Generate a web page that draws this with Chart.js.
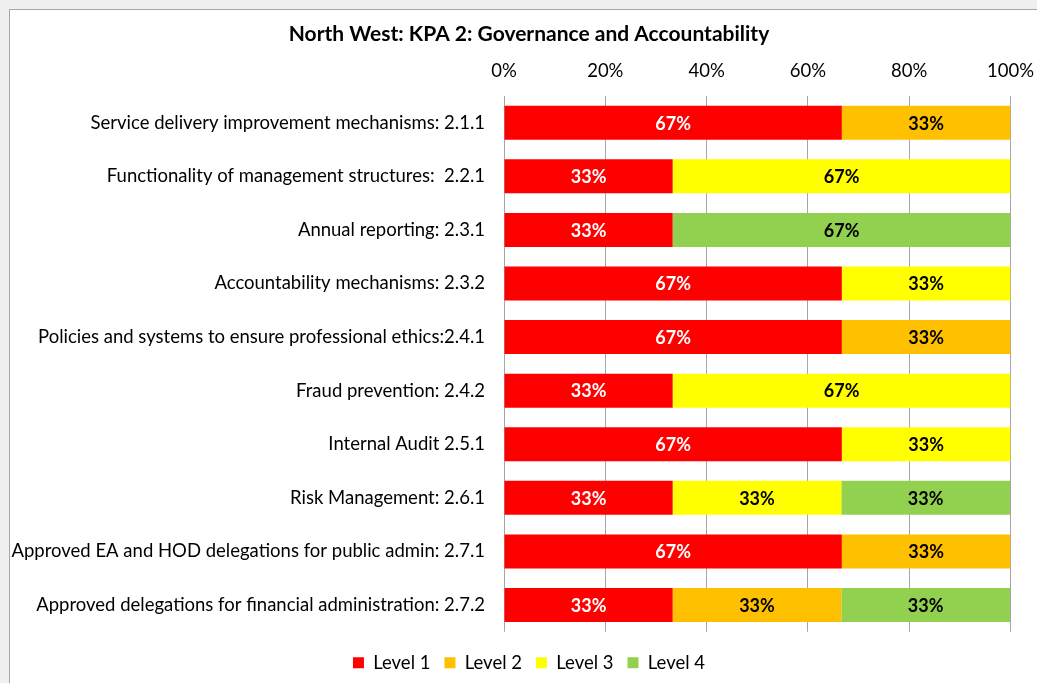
<!DOCTYPE html>
<html>
<head>
<meta charset="utf-8">
<title>North West: KPA 2</title>
<script src="https://cdn.jsdelivr.net/npm/chart.js@4.4.0/dist/chart.umd.min.js"></script>
<style>
    html, body { margin: 0; padding: 0; background: #f0f0f0; overflow: hidden; }
    #frame {
        position: absolute; left: 9px; top: 9px;
        width: 1050px; height: 690px;
        background: #fff; border: 1px solid #a6a6a6;
    }
    #wrap { position: absolute; left: 0; top: 0; width: 1038px; height: 673px; }
</style>
</head>
<body>
<div id="frame">
    <div id="wrap"><canvas id="kpaChart"></canvas></div>
</div>
<script>
// --- Data ---
const categories = [
    'Service delivery improvement mechanisms: 2.1.1',
    'Functionality of management structures:  2.2.1',
    'Annual reporting: 2.3.1',
    'Accountability mechanisms: 2.3.2',
    'Policies and systems to ensure professional ethics:2.4.1',
    'Fraud prevention: 2.4.2',
    'Internal Audit 2.5.1',
    'Risk Management: 2.6.1',
    'Approved EA and HOD delegations for public admin: 2.7.1',
    'Approved delegations for financial administration: 2.7.2'
];
const level1 = [66.7, 33.3, 33.3, 66.7, 66.7, 33.3, 66.7, 33.3, 66.7, 33.3];
const level2 = [33.3, 0, 0, 0, 33.3, 0, 0, 0, 33.3, 33.3];
const level3 = [0, 66.7, 0, 33.3, 0, 66.7, 33.3, 33.3, 0, 0];
const level4 = [0, 0, 66.7, 0, 0, 0, 0, 33.3, 0, 33.3];
const xTicks = [0, 20, 40, 60, 80, 100];

const FONT = 'Lato, "Open Sans", sans-serif';

// --- Value labels inside each bar segment ---
const segmentLabels = {
    id: 'segmentLabels',
    afterDatasetsDraw(chart) {
        const ctx = chart.ctx;
        ctx.save();
        ctx.font = 'bold 18px ' + FONT;
        ctx.textAlign = 'center';
        ctx.textBaseline = 'middle';
        chart.data.datasets.forEach((ds, i) => {
            const meta = chart.getDatasetMeta(i);
            if (meta.hidden) return;
            meta.data.forEach((bar, j) => {
                const v = ds.data[j];
                if (!v) return;
                const p = bar.getCenterPoint();
                ctx.fillStyle = i === 0 ? '#ffffff' : '#000000';
                ctx.fillText(Math.round(v) + '%', p.x, p.y + 1);
            });
        });
        ctx.restore();
    }
};

function makeDataset(label, values, color) {
    return {
        label: label,
        data: values,
        backgroundColor: color,
        borderWidth: 0,
        categoryPercentage: 1,
        barPercentage: 0.635
    };
}

new Chart(document.getElementById('kpaChart'), {
    type: 'bar',
    data: {
        labels: categories,
        datasets: [
            makeDataset('Level 1', level1, '#ff0000'),
            makeDataset('Level 2', level2, '#ffc000'),
            makeDataset('Level 3', level3, '#ffff00'),
            makeDataset('Level 4', level4, '#92d050')
        ]
    },
    options: {
        indexAxis: 'y',
        responsive: true,
        maintainAspectRatio: false,
        animation: false,
        layout: { padding: { left: 0, right: 0, top: 0, bottom: 1 } },
        plugins: {
            title: {
                display: true,
                text: 'North West: KPA 2: Governance and Accountability',
                color: '#000',
                font: { family: FONT, size: 21, weight: 'bold' },
                padding: { top: 11.4, bottom: 0 }
            },
            legend: {
                position: 'bottom',
                // empty title only keeps a gap between the bars and the legend row
                title: { display: true, text: '', font: { size: 6.46 }, padding: 0 },
                labels: {
                    color: '#000',
                    font: { family: FONT, size: 18.5 },
                    boxWidth: 11,
                    boxHeight: 11,
                    padding: 14
                }
            },
            tooltip: { enabled: false }
        },
        scales: {
            x: {
                position: 'top',
                stacked: true,
                min: 0,
                max: 100,
                afterBuildTicks: (scale) => { scale.ticks = xTicks.map(v => ({ value: v })); },
                afterFit: (scale) => { scale.height = 49.4; },
                ticks: {
                    color: '#000',
                    font: { family: FONT, size: 18.5 },
                    padding: 14,
                    callback: (v) => v + '%'
                },
                grid: { color: '#a6a6a6', drawTicks: false },
                border: { display: false }
            },
            y: {
                stacked: true,
                afterFit: (scale) => { scale.width = 494; },
                ticks: {
                    color: '#000',
                    font: { family: FONT, size: 18.5 },
                    padding: 19
                },
                grid: { display: false, drawTicks: false },
                border: { display: false }
            }
        }
    },
    plugins: [segmentLabels]
});
</script>
</body>
</html>
